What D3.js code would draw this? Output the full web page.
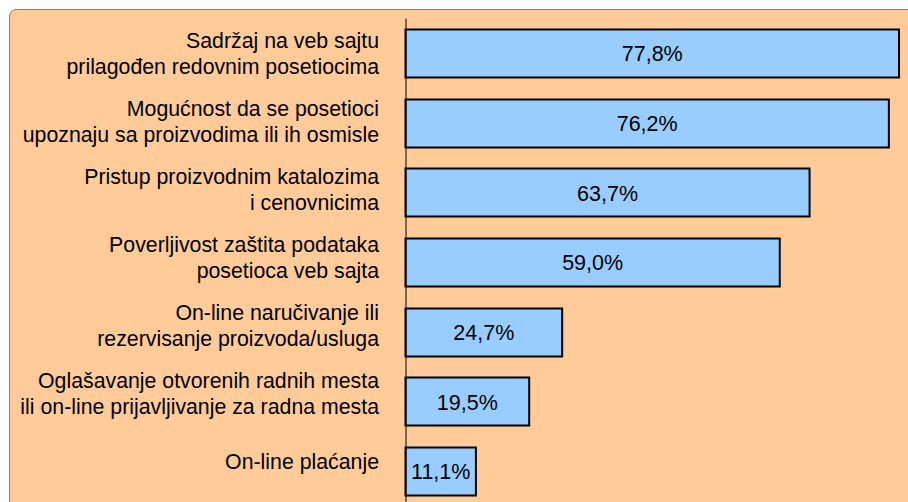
<!DOCTYPE html>
<html>
<head>
<meta charset="utf-8">
<script src="https://cdn.jsdelivr.net/npm/d3@7"></script>
<style>
  html, body { margin: 0; padding: 0; background: #ffffff; }
  svg { display: block; font-family: "Liberation Sans", Arial, sans-serif; }
</style>
</head>
<body>
<svg id="chart" width="908" height="502"></svg>
<script>
// Category labels, each split over lines
const categories = [
  ["Sadržaj na veb sajtu", "prilagođen redovnim posetiocima"],
  ["Mogućnost da se posetioci", "upoznaju sa proizvodima ili ih osmisle"],
  ["Pristup proizvodnim katalozima", "i cenovnicima"],
  ["Poverljivost zaštita podataka", "posetioca veb sajta"],
  ["On-line naručivanje ili", "rezervisanje proizvoda/usluga"],
  ["Oglašavanje otvorenih radnih mesta", "ili on-line prijavljivanje za radna mesta"],
  ["On-line plaćanje"]
];
const values = [77.8, 76.2, 63.7, 59.0, 24.7, 19.5, 11.1];
const valueLabels = ["77,8%", "76,2%", "63,7%", "59,0%", "24,7%", "19,5%", "11,1%"];

const W = 908, H = 502;
const svg = d3.select("#chart");

// Background panel with rounded corner
svg.append("rect")
  .attr("x", 9.5).attr("y", 9.5)
  .attr("width", W + 20).attr("height", H + 20)
  .attr("rx", 7)
  .attr("fill", "#FFCC99")
  .attr("stroke", "#C4683A")
  .attr("stroke-width", 1);

const x = d3.scaleLinear().domain([0, 77.8]).range([405.5, 899]);
const y = d3.scaleBand()
  .domain(d3.range(values.length))
  .range([18, 18 + 7 * 69.67])
  .paddingInner(0.311)
  .paddingOuter(0.1555);

// Category label rows (baseline centre of each text block)
const yLab = d3.scalePoint()
  .domain(d3.range(categories.length))
  .range([60.5, 469.1]);
const lineGap = 26;

// Bars
svg.append("g").selectAll("rect")
  .data(values)
  .join("rect")
  .attr("x", x(0))
  .attr("y", (d, i) => Math.round(y(i)) + 0.5)
  .attr("width", d => x(d) - x(0))
  .attr("height", Math.round(y.bandwidth()))
  .attr("fill", "#99CCFF")
  .attr("stroke", "#000")
  .attr("stroke-width", 2);

// Value labels centred in bars
svg.append("g").selectAll("text")
  .data(values)
  .join("text")
  .attr("x", d => (x(0) + x(d)) / 2)
  .attr("y", (d, i) => y(i) + y.bandwidth() / 2 + 8.5)
  .attr("text-anchor", "middle")
  .attr("font-size", 21.5)
  .attr("fill", "#000")
  .text((d, i) => valueLabels[i]);

// Vertical axis line
const axis = svg.append("g")
  .attr("transform", `translate(${x(0)},0)`)
  .call(d3.axisLeft(d3.scaleLinear().range([18, H + 10])).ticks(0).tickSize(0));
axis.selectAll("text").remove();
axis.select(".domain").attr("stroke", "#000").attr("stroke-width", 1);

// Category labels (right aligned)
const lab = svg.append("g").selectAll("text")
  .data(categories)
  .join("text")
  .attr("text-anchor", "end")
  .attr("font-size", 21.3)
  .attr("fill", "#000")
  .attr("transform", (d, i) => `translate(379,${yLab(i)})`);
lab.selectAll("tspan")
  .data(d => d.map((t, j) => ({ t, j, n: d.length })))
  .join("tspan")
  .attr("x", 0)
  .attr("y", d => (d.j - (d.n - 1) / 2) * lineGap)
  .text(d => d.t);
</script>
</body>
</html>
